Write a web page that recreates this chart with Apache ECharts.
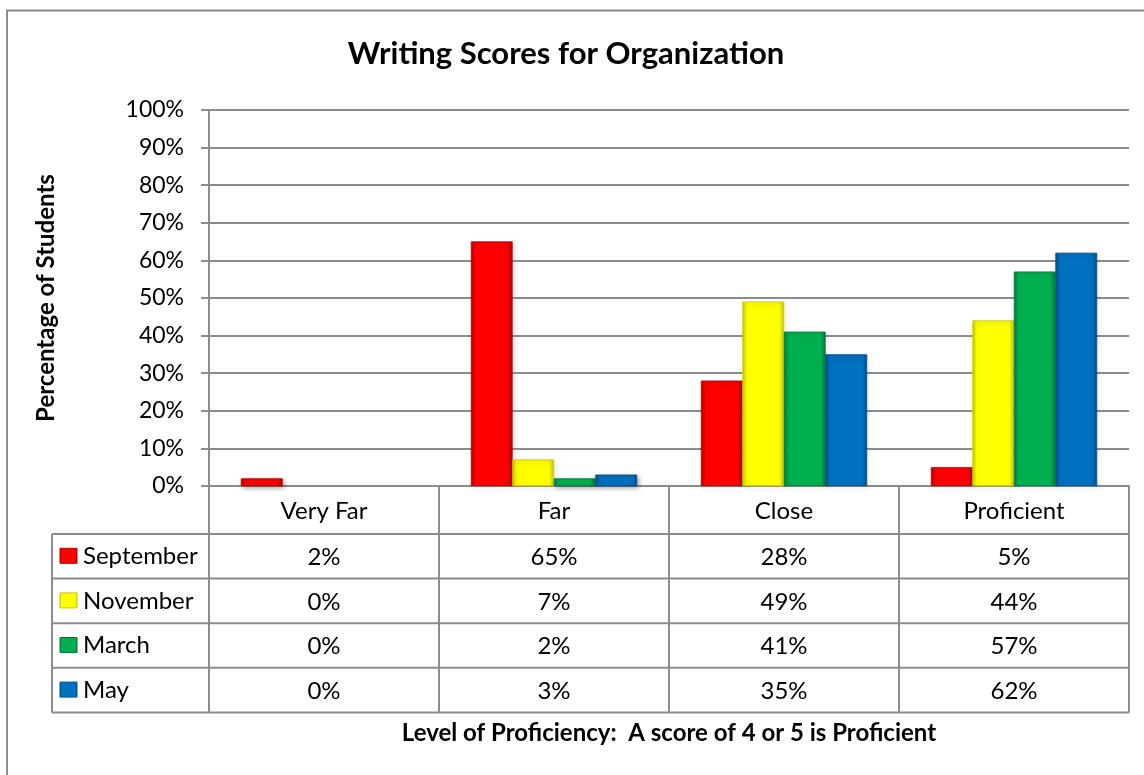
<!DOCTYPE html>
<html>
<head>
<meta charset="utf-8">
<title>Writing Scores for Organization</title>
<script src="https://cdn.jsdelivr.net/npm/echarts@6/dist/echarts.min.js"></script>
<style>
  html, body { margin: 0; padding: 0; background: #fff; }
  #main { width: 1144px; height: 775px; }
</style>
</head>
<body>
<div id="main"></div>
<script>
// data
const categories = ['Very Far', 'Far', 'Close', 'Proficient']
const seriesNames = ['September', 'November', 'March', 'May']
const september = [2, 65, 28, 5]
const november = [0, 7, 49, 44]
const march = [0, 2, 41, 57]
const may = [0, 3, 35, 62]
const seriesColors = ['#ff0000', '#ffff00', '#00b050', '#0070c0']
const edgeColors = ['#b30000', '#c8c800', '#007a38', '#004f8a']

const values = [september, november, march, may]
const font = 'Lato, "Open Sans", sans-serif'
const lineColor = '#8c8c8c'

// layout
const gridLeft = 209
const gridTop = 110
const gridWidth = 920
const gridHeight = 376
const tableLeft = 52
const headerBottom = 534
const rowH = 44.6

const chart = echarts.init(document.getElementById('main'))

function barColor(i) {
  return new echarts.graphic.LinearGradient(0, 0, 1, 0, [
    { offset: 0, color: edgeColors[i] },
    { offset: 0.1, color: seriesColors[i] },
    { offset: 0.88, color: seriesColors[i] },
    { offset: 1, color: edgeColors[i] }
  ])
}

chart.setOption({
  animation: false,
  grid: { left: gridLeft, top: gridTop, width: gridWidth, height: gridHeight },
  xAxis: {
    type: 'category',
    data: categories,
    axisLine: { lineStyle: { color: lineColor, width: 2 } },
    axisTick: { show: false },
    axisLabel: { show: false }
  },
  yAxis: {
    type: 'value',
    min: 0,
    max: 100,
    interval: 10,
    name: 'Percentage of Students',
    nameLocation: 'middle',
    nameGap: 151,
    nameTextStyle: { fontFamily: font, fontSize: 24, fontWeight: 'bold', color: '#000' },
    axisLine: { show: true, lineStyle: { color: lineColor, width: 2 } },
    axisTick: { show: true, length: 8, lineStyle: { color: lineColor, width: 2 } },
    axisLabel: { formatter: '{value}%', margin: 25, fontFamily: font, fontSize: 23, color: '#000' },
    splitLine: { lineStyle: { color: lineColor, width: 2 } }
  },
  series: seriesNames.map((name, i) => ({
    name: name,
    type: 'bar',
    // zero values draw nothing in the original, so no shadow for them
    data: values[i].map(v => (v === 0 ? { value: 0, itemStyle: { opacity: 0 } } : v)),
    barWidth: 41.5,
    barGap: '0%',
    itemStyle: {
      color: barColor(i),
      borderColor: edgeColors[i],
      borderWidth: 0.5,
      shadowColor: 'rgba(0,0,0,0.35)',
      shadowBlur: 5,
      shadowOffsetX: 2,
      shadowOffsetY: 2
    }
  }))
})

// data table under the plot, columns placed from the category axis
const bandW = gridWidth / categories.length
const axisY = gridTop + gridHeight
const tableBottom = headerBottom + rowH * seriesNames.length
const tableRight = gridLeft + gridWidth
const graphic = []

function line(x1, y1, x2, y2) {
  graphic.push({
    type: 'line',
    shape: { x1: x1, y1: y1, x2: x2, y2: y2 },
    style: { stroke: lineColor, lineWidth: 2 },
    z: 10
  })
}
function text(str, x, y, align, bold, size) {
  graphic.push({
    type: 'text',
    x: x,
    y: y,
    style: {
      text: str,
      fill: '#000',
      font: (bold ? 'bold ' : '') + size + 'px ' + font,
      align: align,
      verticalAlign: 'middle'
    },
    z: 11
  })
}

// outer chart border (only top and left are inside the picture)
graphic.push({
  type: 'rect',
  shape: { x: 7, y: 10.5, width: 1300, height: 1000 },
  style: { fill: 'none', stroke: lineColor, lineWidth: 2 },
  z: 9
})

text('Writing Scores for Organization', 566, 54, 'center', true, 31)

for (let c = 0; c <= categories.length; c++) {
  const x = gridLeft + c * bandW
  line(x, axisY, x, tableBottom)
}
line(tableLeft, headerBottom, tableLeft, tableBottom)
for (let r = 0; r <= seriesNames.length; r++) {
  const y = headerBottom + r * rowH
  line(tableLeft, y, tableRight, y)
}

categories.forEach((cat) => {
  const cx = chart.convertToPixel({ xAxisIndex: 0 }, cat)
  text(cat, cx, (axisY + headerBottom) / 2 + 1, 'center', false, 24)
})

seriesNames.forEach((name, r) => {
  const cy = headerBottom + r * rowH + rowH / 2
  graphic.push({
    type: 'rect',
    shape: { x: 60, y: cy - 8, width: 17, height: 15 },
    style: { fill: barColor(r), stroke: edgeColors[r], lineWidth: 1 },
    z: 11
  })
  text(name, 83, cy, 'left', false, 24)
  values[r].forEach((v, c) => {
    const cx = chart.convertToPixel({ xAxisIndex: 0 }, categories[c])
    text(v + '%', cx, cy + 1, 'center', false, 24)
  })
})

text('Level of Proficiency:  A score of 4 or 5 is Proficient', gridLeft + gridWidth / 2, 733, 'center', true, 24)

chart.setOption({ graphic: graphic })
</script>
</body>
</html>
